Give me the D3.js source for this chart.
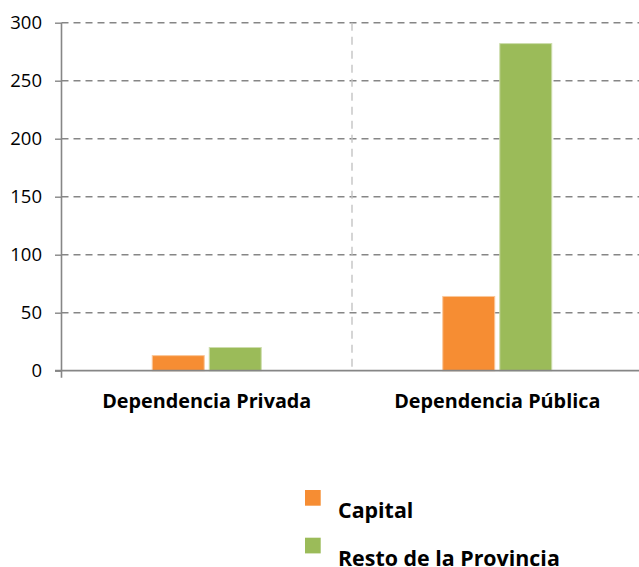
<!DOCTYPE html>
<html>
<head>
<meta charset="utf-8">
<script src="https://cdn.jsdelivr.net/npm/d3@7"></script>
<style>
  html, body { margin: 0; padding: 0; background: #fff; }
  svg { display: block; }
</style>
</head>
<body>
<svg id="chart" width="639" height="567"></svg>
<script>
// Chart data
const categories = ["Dependencia Privada", "Dependencia Pública"];
const seriesNames = ["Capital", "Resto de la Provincia"];
const capitalValues = [13, 64];
const restoValues = [20, 282];
const seriesColors = ["#F68D33", "#9BBB59"];
const seriesEdges = ["#FAC79A", "#CDDDAC"];
const yTicks = [0, 50, 100, 150, 200, 250, 300];

const svg = d3.select("#chart");
const W = 639;

// Plot area
const plotLeft = 61.5, plotRight = 642.5, plotTop = 22.7, plotBottom = 370.7;

const x0 = d3.scaleBand().domain(categories).range([plotLeft, plotRight]).paddingInner(0).paddingOuter(0);
const y = d3.scaleLinear().domain([0, 300]).range([plotBottom, plotTop]);

// Inner band for the two series, centred in each category
const groupWidth = 109;
const x1 = d3.scaleBand().domain(seriesNames).range([0, groupWidth]).paddingInner(0.088).paddingOuter(0);

const axisColor = "#868686";

// Horizontal dashed gridlines
svg.append("g")
  .selectAll("line")
  .data(yTicks.filter(d => d > 0))
  .join("line")
  .attr("x1", plotLeft).attr("x2", W)
  .attr("y1", d => y(d)).attr("y2", d => y(d))
  .attr("stroke", axisColor)
  .attr("stroke-width", 1.4)
  .attr("stroke-dasharray", "7,5");

// Vertical dashed gridline between categories
svg.append("g")
  .selectAll("line")
  .data(categories.slice(1))
  .join("line")
  .attr("x1", d => x0(d)).attr("x2", d => x0(d))
  .attr("y1", plotTop).attr("y2", plotBottom)
  .attr("stroke", "#C4C4C4")
  .attr("stroke-width", 1.4)
  .attr("stroke-dasharray", "8,6");

// Bars
const rows = categories.map((c, i) => ({ cat: c, vals: [capitalValues[i], restoValues[i]] }));
const groups = svg.append("g")
  .selectAll("g")
  .data(rows)
  .join("g")
  .attr("transform", d => `translate(${x0(d.cat) + x0.bandwidth() / 2 - groupWidth / 2},0)`);

groups.selectAll("rect")
  .data(d => d.vals.map((v, j) => ({ name: seriesNames[j], v, j })))
  .join("rect")
  .attr("x", d => x1(d.name))
  .attr("width", x1.bandwidth())
  .attr("y", d => y(d.v))
  .attr("height", d => y(0) - y(d.v))
  .attr("fill", d => seriesColors[d.j])
  .attr("stroke", d => seriesEdges[d.j])
  .attr("stroke-width", 1);

// Y axis
const yAxis = d3.axisLeft(y).tickValues(yTicks).tickSize(6.5).tickPadding(13).tickFormat(d3.format("d"));
const gy = svg.append("g").attr("transform", `translate(${plotLeft},0)`).call(yAxis);
gy.select(".domain").remove();
gy.selectAll(".tick line").attr("stroke", axisColor).attr("stroke-width", 1.4);
gy.selectAll(".tick text")
  .attr("fill", "#000")
  .style("font-family", "'Open Sans', sans-serif")
  .style("font-size", "18.5px");
gy.append("line")
  .attr("x1", 0).attr("x2", 0)
  .attr("y1", plotTop).attr("y2", plotBottom + 7)
  .attr("stroke", axisColor).attr("stroke-width", 1.6);

// X axis line
svg.append("line")
  .attr("x1", plotLeft - 6.5).attr("x2", W)
  .attr("y1", plotBottom).attr("y2", plotBottom)
  .attr("stroke", axisColor).attr("stroke-width", 1.8);

// Category labels
svg.append("g")
  .selectAll("text")
  .data(categories)
  .join("text")
  .attr("x", d => x0(d) + x0.bandwidth() / 2)
  .attr("y", 408)
  .attr("text-anchor", "middle")
  .style("font-family", "'Open Sans', sans-serif")
  .style("font-weight", "700")
  .style("font-size", "19.8px")
  .text(d => d);

// Legend
const legend = svg.append("g")
  .selectAll("g")
  .data(seriesNames)
  .join("g")
  .attr("transform", (d, i) => `translate(305,${490 + i * 47.7})`);

legend.append("rect")
  .attr("width", 15.7).attr("height", 15.7)
  .attr("fill", (d, i) => seriesColors[i]);

legend.append("text")
  .attr("x", 33)
  .attr("y", 28)
  .style("font-family", "'Open Sans', sans-serif")
  .style("font-weight", "700")
  .style("font-size", "21.4px")
  .text(d => d);
</script>
</body>
</html>
